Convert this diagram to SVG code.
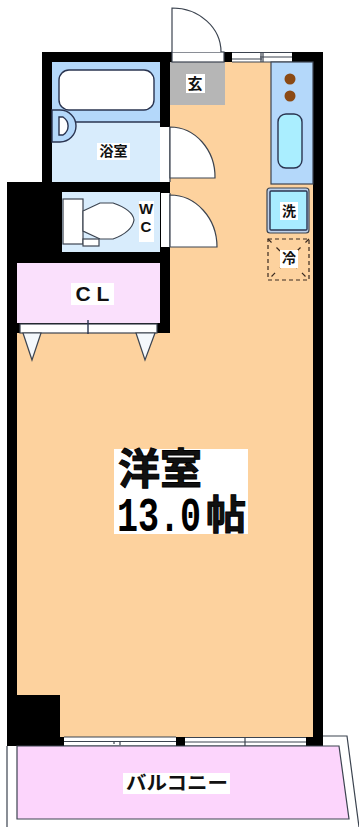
<svg xmlns="http://www.w3.org/2000/svg" width="359" height="827" viewBox="0 0 359 827">
<style>
.ln{stroke:#3c4450;stroke-width:1.2}
.nv{stroke:#2a3450;stroke-width:1.4}
.wh{fill:#fff}
.blk{fill:#000}
.t{font-family:"Noto Sans CJK JP","Liberation Sans",sans-serif;font-weight:700;fill:#111;text-anchor:middle}
.tb{fill:#fff}
</style>
<rect width="359" height="827" fill="#fff"/>
<g id="floor">
<path d="M170 62H313V737H17V182H170Z" fill="#fdd29e"/>
</g>
<g id="walls">
<rect class="blk" x="42" y="52" width="130" height="10"/>
<rect class="blk" x="42" y="52" width="10" height="130"/>
<rect class="blk" x="160" y="52" width="10" height="75"/>
<rect class="blk" x="7" y="182" width="163" height="10"/>
<rect class="blk" x="7" y="182" width="55" height="81"/>
<rect class="blk" x="7" y="252" width="163" height="11"/>
<rect class="blk" x="160" y="182" width="10" height="151"/>
<rect class="blk" x="7" y="182" width="10" height="564"/>
<rect class="blk" x="17" y="323" width="153" height="10"/>
<rect class="blk" x="17" y="695" width="43" height="51"/>
<rect class="blk" x="60" y="737" width="4" height="9"/>
<rect class="blk" x="224" y="52" width="8" height="10"/>
<rect class="blk" x="292" y="52" width="31" height="10"/>
<rect class="blk" x="313" y="52" width="10" height="694"/>
<rect class="blk" x="176" y="737" width="9" height="9"/>
<rect class="blk" x="306" y="737" width="17" height="9"/>
</g>
<g id="bath">
<rect x="52" y="62" width="108" height="120" fill="#d8ecfc"/>
<rect x="52" y="62" width="108" height="60" fill="#b4d8fa"/>
<path d="M52 110H60A16 16 0 0 1 60 142H52Z" fill="#b4d8fa" class="nv"/>
<path d="M76 122H160" class="nv" fill="none"/>
<path d="M59 117H63A12 11 0 0 1 63 135H59Z" class="wh nv"/>
<rect x="59" y="70" width="95" height="40" rx="10" class="wh nv"/>
<rect x="161" y="127" width="9" height="55" class="wh"/>
<path d="M170 127V182" class="ln"/>
<path d="M170 127A45 50 0 0 1 215 178H170Z" class="wh ln"/>
<rect x="97" y="143" width="33" height="17" class="tb"/>
<text class="t" x="113.500" y="156" font-size="14">浴室</text>
</g>
<g id="entry">
<rect x="170" y="62" width="55" height="43" fill="#b6b6b6"/>
<rect x="172" y="52" width="52" height="10" class="wh ln"/>
<path d="M172 52V8A49 44 0 0 1 221 52" fill="#fff" class="ln"/>
<rect x="186" y="74" width="19" height="19" class="tb"/>
<text class="t" x="195" y="89" font-size="15">玄</text>
</g>
<g id="window-north">
<rect x="232" y="52" width="60" height="10" class="wh"/>
<path d="M232 52.500H292M232 62H292M260 57H292M232 59H262" class="ln" fill="none"/>
<path d="M261 53V62M263 53V62" class="ln" fill="none"/>
</g>
<g id="kitchen">
<rect x="271" y="62" width="42" height="122" fill="#b4d8fa" class="ln"/>
<circle cx="290" cy="79" r="5.500" fill="#8b4a14"/>
<circle cx="290" cy="96" r="5.500" fill="#8b4a14"/>
<rect x="278" y="114" width="24" height="54" rx="8" fill="#aaeeff" class="nv"/>
</g>
<g id="washer">
<rect x="267" y="188" width="42" height="45" rx="3" fill="#bcd0ea" class="ln"/>
<rect x="270" y="191" width="37" height="39" rx="1" fill="#a8ecff" class="nv"/>
<rect x="280" y="202" width="18" height="18" class="tb"/>
<text class="t" x="289" y="216" font-size="14">洗</text>
</g>
<g id="fridge">
<rect x="268" y="239" width="41" height="41" fill="none" stroke="#3a2a20" stroke-width="1.200" stroke-dasharray="4 3"/>
<path d="M268 239L309 280M309 239L268 280" fill="none" stroke="#3a2a20" stroke-width="1.200" stroke-dasharray="5 7"/>
<rect x="280" y="250" width="18" height="18" class="tb"/>
<text class="t" x="289" y="263" font-size="14">冷</text>
</g>
<g id="wc">
<rect x="62" y="192" width="98" height="60" fill="#d8ecfc"/>
<rect x="63" y="199" width="20" height="45" class="wh ln"/>
<path d="M83 211L100 203H113Q133 210 134 220Q132 232 113 239H100L83 231Z" class="wh ln"/>
<rect x="83" y="239" width="16" height="7" class="wh ln"/>
<rect x="139" y="201" width="15" height="41" class="tb"/>
<text class="t" x="146" y="214" font-size="15" style="font-family:'Liberation Sans',sans-serif">W</text>
<text class="t" x="146" y="232" font-size="15" style="font-family:'Liberation Sans',sans-serif">C</text>
<rect x="161" y="193" width="9" height="54" class="wh"/>
<path d="M170 193V247" class="ln"/>
<path d="M170 195A47 52 0 0 1 217 247H170Z" class="wh ln"/>
</g>
<g id="closet">
<rect x="17" y="263" width="143" height="60" fill="#fae0fc"/>
<rect x="71" y="283" width="43" height="22" class="tb"/>
<text class="t" x="92.500" y="301" font-size="21" style="font-family:'Liberation Sans',sans-serif">C L</text>
<rect x="20" y="324" width="137" height="9" class="wh ln"/>
<path d="M88 320V334" class="nv" fill="none"/>
<path d="M23 333H41L32 360Z M136 333H155L145 360Z" fill="#f4f8fc" class="ln"/>
</g>
<g id="room">
<rect x="114" y="449" width="134" height="85" class="tb"/>
<text class="t" x="160" y="484" font-size="42" stroke="#000" stroke-width="1">洋室</text>
<text transform="translate(117 531) scale(.73 1)" font-size="48" font-weight="700" style="font-family:'Liberation Mono',monospace;fill:#000">13.0</text>
<text class="t" x="226" y="529" font-size="40" stroke="#000" stroke-width="1">帖</text>
</g>
<g id="window-south">
<rect x="64" y="737" width="112" height="9" class="wh"/>
<rect x="185" y="737" width="121" height="9" class="wh"/>
<path d="M64 737H176M64 746H176M64 741.500H176M185 737.500H306M185 746H306M185 742H306" class="ln" fill="none"/>
<path d="M114 741V744M120 741V745M245 737V746" class="ln" fill="none"/>
</g>
<g id="balcony">
<path d="M17 746H339L349 819H17Z" fill="#fcd5fc" class="ln"/>
<path d="M7 746V827M323 736H347L359 827" fill="none" class="ln"/>
<rect x="123" y="773" width="107" height="21" class="tb"/>
<text class="t" x="177" y="790" font-size="19" textLength="102" lengthAdjust="spacingAndGlyphs">バルコニー</text>
</g>
</svg>
